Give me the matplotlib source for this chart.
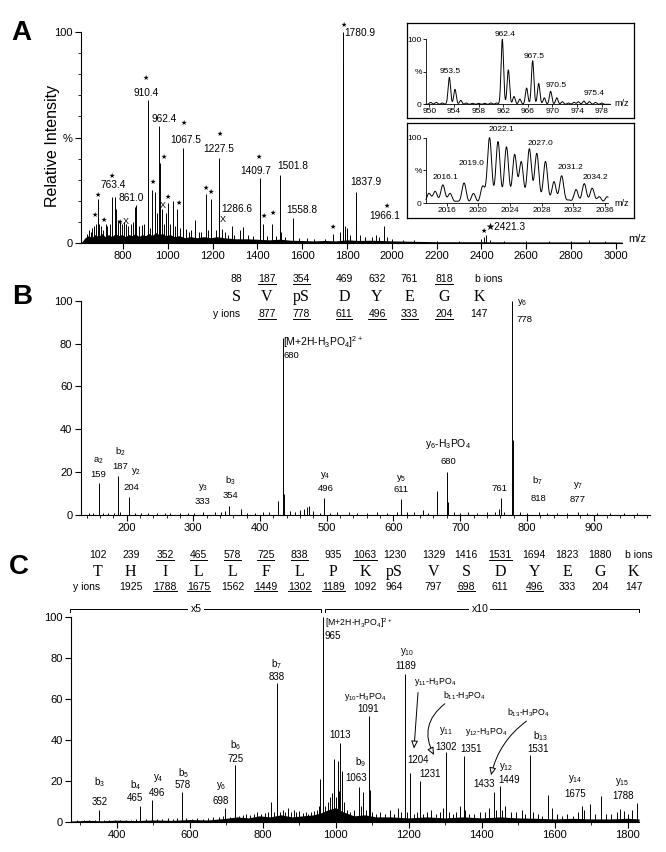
import numpy as np
import matplotlib
matplotlib.use("Agg")
import matplotlib.pyplot as plt
from matplotlib.lines import Line2D
from matplotlib import font_manager

names = {f.name for f in font_manager.fontManager.ttflist}
SANS = 'Liberation Sans Narrow' if 'Liberation Sans Narrow' in names else 'Liberation Sans'
plt.rcParams['font.family'] = [SANS, 'Liberation Sans', 'DejaVu Sans']
plt.rcParams['mathtext.fontset'] = 'custom'
plt.rcParams['mathtext.rm'] = SANS
plt.rcParams['mathtext.default'] = 'regular'
plt.rcParams['axes.linewidth'] = 0.8

W, H = 666, 852

# ---------------- panel A : survey spectrum ----------------
a_mz = [640, 648, 655, 662, 671, 681, 686, 694, 702, 711, 722, 730, 740, 751, 763, 768,
        777, 785, 795, 802, 812, 824, 835, 842, 851, 857, 869, 883, 895, 910.4, 919, 931,
        942, 953, 962.4, 965, 972, 981, 990, 1001, 1010, 1021, 1030, 1040, 1053, 1067.5,
        1083, 1095, 1105, 1119, 1140, 1149, 1168, 1180, 1193, 1216, 1227.5, 1230, 1242,
        1255, 1270, 1286.6, 1297, 1320, 1334, 1356, 1378, 1409.7, 1412, 1424, 1444, 1466,
        1481, 1501.8, 1506, 1525, 1558.8, 1584, 1621, 1651, 1700, 1736, 1770, 1780.9,
        1781.9, 1782.9, 1790, 1802, 1815, 1837.9, 1840, 1860, 1880, 1910, 1930, 1945,
        1966.1, 1980, 2000, 2050, 2100, 2200, 2300, 2400, 2410, 2421.3, 2440, 2500,
        2600, 2700, 2800, 2880, 2950]
a_int = [4.5, 6, 5, 7, 8, 9, 21, 9, 8, 6, 9, 8, 9, 22, 22, 16,
         11, 10, 9, 10, 9, 8, 9, 10, 17, 18, 8, 8.5, 9, 68, 7, 25,
         24, 14, 55.6, 38, 16, 9, 14, 19, 9, 20, 8, 16, 7, 45,
         6.5, 5, 6, 11, 5, 5, 23, 6, 21, 6, 40.5, 26.5, 6.5,
         5, 4, 8, 4, 6, 7.5, 4, 3.5, 30.6, 22.9, 8.9, 3.5, 9,
         3.5, 32, 5, 3, 12, 2.5, 2.5, 2, 2, 4.5, 5, 100,
         85, 70, 8, 7, 4, 24, 8, 4, 3, 3, 4, 3,
         8, 3, 2, 1.5, 1.2, 1, 1, 2, 3, 4, 1.5, 1,
         0.8, 0.8, 1, 1.5, 1]
# baseline "grass" envelope
a_band_mz = [612, 630, 645, 660, 675, 690, 705, 720, 735, 750, 765, 780, 795, 810, 825,
             840, 855, 870, 885, 900, 915, 930, 945, 960, 975, 990, 1010, 1030, 1050,
             1075, 1100, 1130, 1160, 1190, 1220, 1250, 1300, 1350, 1400, 1450, 1500,
             1550, 1600, 1650, 1700, 1750, 1800, 1850, 1900, 1950, 2000, 2100, 2200,
             2400, 2600, 2800, 3000, 3028]
a_band_int = [0, 2.5, 3.5, 2.5, 4, 3, 4.5, 3, 4, 3, 4.5, 3.5, 4, 3, 4,
              3.5, 4.5, 3, 4, 3.5, 4.5, 3.5, 5, 4, 4.5, 3.5, 4, 3, 3.5,
              2.5, 3, 2.5, 3, 2.5, 3, 2.5, 2, 2, 1.8, 1.5, 1.8,
              1.3, 1.2, 1, 1.2, 1, 1.5, 1.2, 1.3, 1.2, 1, 0.8, 0.6,
              0.6, 0.5, 0.5, 0.5, 0.4]
a_star_mz = [671, 686, 711, 751, 786, 901, 933, 980, 999, 1047, 1071, 1168, 1193, 1233,
             1405, 1426, 1468, 1736, 1787, 1977, 2410]
a_star_int = [13.5, 23, 11, 32, 10, 78, 29, 41, 22, 19, 57, 26, 24, 51.5,
              41, 13, 14, 7.6, 103.5, 17.6, 5.5]
a_cross_mz = [813, 977, 1246]
a_cross_int = [10, 18, 11]
a_labels = ['1780.9', '910.4', '962.4', '1067.5', '1227.5', '1409.7', '1501.8', '1558.8',
            '1286.6', '1837.9', '1966.1', '763.4', '861.0', '\u26052421.3']
a_label_pos = [(1786, 99.5, 'left'), (904, 71, 'center'), (984, 59, 'center'),
               (1080, 49, 'center'), (1229, 44.5, 'center'), (1390, 34, 'center'),
               (1559, 36.6, 'center'), (1600, 15.5, 'center'), (1308, 16, 'center'),
               (1885, 28.7, 'center'), (1967, 12.7, 'center'), (756, 27.4, 'center'),
               (834, 21.5, 'center'), (2416, 7.6, 'left')]

# insets (isotope clusters)
in1_mz = [950.2, 951.1, 952.1, 953.24, 954.16, 955.1, 956.0, 957.0, 958.0, 959.0, 960.0,
          960.9, 961.85, 962.83, 963.75, 964.7, 965.8, 966.78, 967.76, 968.67, 969.7,
          970.7, 971.6, 972.6, 973.5, 974.2, 975.1, 976.0, 977.0, 978.0]
in1_int = [3, 3, 2, 41.5, 23, 6, 2, 1.5, 1.5, 1.5, 2,
           2, 100, 53, 12, 8, 25, 67, 32, 10, 20,
           10, 4, 2, 3, 4, 5, 4, 3, 2]
in1_labels = ['953.5', '962.4', '967.5', '970.5', '975.4']
in1_label_pos = [(953.4, 51), (962.3, 108), (967.0, 73), (970.6, 29), (976.8, 17)]
in2_mz = [2013.76, 2014.56, 2015.53, 2016.44, 2017.3, 2018.21, 2019.4, 2020.57, 2021.43,
          2022.5, 2023.57, 2024.6, 2025.44, 2026.46, 2027.4, 2028.5, 2029.57, 2030.54,
          2031.45, 2032.36, 2033.4, 2034.4, 2035.3, 2036.3]
in2_int = [15, 18, 28, 15, 3, 31, 15, 26, 100,
           94, 86, 74, 63, 83, 76, 64, 33, 42,
           5, 21, 30, 23, 10, 10]
in2_labels = ['2022.1', '2027.0', '2019.0', '2016.1', '2031.2', '2034.2']
in2_label_pos = [(2023.0, 112), (2027.9, 91), (2019.2, 61), (2015.9, 40), (2031.6, 54), (2034.8, 39)]

# ---------------- panel B : MS/MS of SVpSDYEGK ----------------
b_mz = [143, 150, 159, 165, 172, 181, 187, 190, 204, 213, 222, 232, 245, 258, 265, 280,
        292, 301, 315, 333, 341, 348, 354, 372, 380, 392, 405, 413, 427, 435, 436, 445,
        452, 460, 466, 470, 474, 480, 490, 496, 505, 515, 533, 545, 560, 575, 590, 606,
        611, 620, 631, 645, 652, 665, 680, 682, 690, 700, 712, 725, 740, 752, 758, 761,
        765, 778, 779, 790, 800, 818, 830, 845, 860, 877, 890, 905, 925, 945, 965]
b_int = [0.8, 1, 14.8, 0.8, 1, 1, 18.2, 1.5, 8.2, 1, 0.8, 0.7, 1, 0.8, 1, 0.8,
         1, 0.7, 1.2, 1.5, 1.5, 1.8, 4.2, 3, 1, 1, 1.5, 1.2, 6.7, 82.4, 10, 2,
         1.5, 2.5, 3, 3.5, 4, 2, 1, 7.8, 1, 1.2, 1.5, 0.8, 1, 1.2, 1, 1.5,
         7.5, 1.5, 1.2, 2.5, 1, 11.4, 20.2, 6, 1.5, 1, 1.2, 1, 1.2, 1.5, 3, 7.8,
         1.5, 100, 35, 1.5, 1, 1.2, 1, 0.8, 0.8, 1.2, 1, 0.8, 0.8, 1, 0.8]
b_labels = ['a$_2$', '159', 'b$_2$', '187', 'y$_2$', '204', 'y$_3$', '333', 'b$_3$', '354',
            '[M+2H-H$_3$PO$_4$]$^{2+}$', '680', 'y$_4$', '496', 'y$_5$', '611',
            'y$_6$-H$_3$PO$_4$', '680', '761', 'y$_6$', '778', 'b$_7$', '818', 'y$_7$', '877']
b_label_pos = [(158, 25.5, 'center'), (158, 18.7, 'center'), (190, 29.5, 'center'),
               (190, 22.5, 'center'), (214, 20.5, 'center'), (208, 12.9, 'center'),
               (314.5, 13, 'center'), (314.5, 6.2, 'center'), (355, 16, 'center'),
               (355, 8.9, 'center'), (435, 80.5, 'left'), (435, 74.6, 'left'),
               (498, 18.4, 'center'), (498, 12.4, 'center'), (612, 17, 'center'),
               (612, 11.7, 'center'), (681.7, 33, 'center'), (681.7, 24.9, 'center'),
               (758, 12.4, 'center'), (785, 99, 'left'), (785, 91.3, 'left'),
               (815, 16, 'center'), (818, 7.8, 'center'), (876, 13.6, 'center'),
               (876, 7, 'center')]
b_residues = ['S', 'V', 'pS', 'D', 'Y', 'E', 'G', 'K']
b_bions = ['88', '187', '354', '469', '632', '761', '818']
b_bions_ul = [False, True, True, False, False, False, True]
b_yions = ['877', '778', '611', '496', '333', '204', '147']
b_yions_ul = [True, True, True, True, True, True, False]

# ---------------- panel C : MS/MS of THILLFLPKpSVSDYEGK ----------------
c_mz = [290, 310, 325, 340, 352, 365, 380, 395, 410, 425, 440, 452, 465, 480, 496, 510,
        525, 540, 555, 565, 578, 580, 590, 605, 620, 635, 650, 665, 680, 690, 698, 710,
        725, 735, 745, 755, 765, 775, 785, 795, 805, 815, 822, 830, 838, 840, 848, 855,
        862, 869, 878, 885, 892, 900, 910, 918, 925, 932, 940, 948, 955, 958, 965, 972,
        980, 985, 990, 996, 1000, 1005, 1008, 1013, 1017, 1022, 1030, 1040, 1050, 1063,
        1070, 1075, 1082, 1091, 1094, 1100, 1110, 1120, 1135, 1150, 1160, 1170, 1180,
        1189, 1195, 1204, 1215, 1222, 1231, 1240, 1250, 1262, 1275, 1285, 1295, 1302,
        1310, 1320, 1330, 1340, 1351, 1355, 1365, 1380, 1395, 1410, 1420, 1433, 1440,
        1449, 1455, 1465, 1480, 1495, 1510, 1520, 1531, 1540, 1555, 1565, 1581, 1593,
        1605, 1620, 1635, 1650, 1665, 1675, 1680, 1698, 1710, 1727, 1740, 1755, 1770,
        1779, 1790, 1800, 1812, 1826]
c_int = [0.8, 1, 0.8, 1, 6, 1, 1, 1.2, 1, 1.2, 1, 1.5, 7.7, 1.5, 10.6, 1.5,
         1.5, 2, 1.5, 2, 14.7, 4, 2, 1.5, 2, 1.5, 2, 2.5, 2.5, 3, 7, 2.5,
         27.7, 3, 3.5, 4, 3.5, 4, 5, 4, 4.5, 5, 9.8, 5, 68, 12.7, 5, 6,
         5, 7, 5, 6, 5, 5.5, 4.5, 5, 4, 5, 5.5, 6, 8, 21, 100, 8,
         10, 12, 14, 30.5, 12, 30, 15, 38.7, 25, 10, 6, 5, 6, 17,
         8, 14.7, 6, 51.7, 15.8, 5, 4, 5, 4, 6, 4, 7, 5,
         72.3, 5, 24, 4, 5, 20, 4, 5, 6, 4, 5, 7, 34,
         5, 4, 5, 8, 32.3, 6, 4, 4, 5, 5, 7, 14.4, 6,
         17.5, 6, 8, 5, 5, 6, 4, 32.6, 5, 4, 3, 13, 7,
         4, 3, 4, 3, 5, 7.7, 6, 9, 4, 12.6, 4, 4, 5,
         6.5, 5.5, 4, 6, 9.3]
c_band_mz = [276, 320, 360, 400, 450, 500, 550, 600, 650, 700, 730, 760, 790, 820, 850,
             880, 910, 940, 960, 980, 1000, 1020, 1050, 1080, 1110, 1150, 1200, 1250,
             1300, 1350, 1400, 1450, 1500, 1550, 1600, 1650, 1700, 1750, 1800, 1831]
c_band_int = [0.5, 0.8, 0.6, 0.9, 0.7, 1, 0.8, 1.2, 1, 1.8, 2.5, 2, 3, 2.5, 3.5,
              2.5, 3, 3.5, 4.5, 6, 7, 5, 3, 3.5, 2.5, 2.5, 2, 2.5,
              2, 2.5, 2, 2.5, 2, 1.8, 1.5, 1.8, 1.5, 1.5, 1.8, 1.5]
c_labels = ['b$_3$', '352', 'b$_4$', '465', 'y$_4$', '496', 'b$_5$', '578', 'y$_6$', '698',
            'b$_6$', '725', 'b$_7$', '838', '[M+2H-H$_3$PO$_4$]$^{2+}$', '965', '1013',
            'b$_9$', '1063', 'y$_{10}$-H$_3$PO$_4$', '1091', 'y$_{10}$', '1189',
            'y$_{11}$-H$_3$PO$_4$', 'b$_{11}$-H$_3$PO$_4$', 'b$_{13}$-H$_3$PO$_4$',
            '1204', '1231', 'y$_{11}$', '1302', 'y$_{12}$-H$_3$PO$_4$', '1351', '1433',
            'y$_{12}$', '1449', 'b$_{13}$', '1531', 'y$_{14}$', '1675', 'y$_{15}$', '1788']
c_label_pos = [(353.5, 19.5, 'center'), (353.5, 9.8, 'center'), (452, 18, 'center'),
               (450, 11.7, 'center'), (513, 21.7, 'center'), (510, 14.2, 'center'),
               (583, 23.8, 'center'), (580, 18, 'center'), (685, 17.5, 'center'),
               (685, 10, 'center'), (726, 37.5, 'center'), (726, 30.5, 'center'),
               (839, 77.2, 'center'), (839, 70.6, 'center'), (970, 97, 'left'),
               (970, 90.5, 'left'), (1011, 42.4, 'center'), (1067, 29, 'center'),
               (1055, 21.7, 'center'), (1081, 60.9, 'center'), (1090, 55, 'center'),
               (1195, 82.9, 'center'), (1191, 75.9, 'center'), (1273, 68.2, 'center'),
               (1354, 61.5, 'center'), (1529, 53.5, 'center'), (1226, 30.2, 'center'),
               (1258, 23.3, 'center'), (1302, 44.5, 'center'), (1302, 36.7, 'center'),
               (1412, 43.7, 'center'), (1372, 35.4, 'center'), (1407, 18.4, 'center'),
               (1467, 26.9, 'center'), (1476, 20.4, 'center'), (1560, 42.1, 'center'),
               (1555, 35.4, 'center'), (1657, 21.2, 'center'), (1657, 13.9, 'center'),
               (1785, 19.3, 'center'), (1788, 12.6, 'center')]
c_residues = ['T', 'H', 'I', 'L', 'L', 'F', 'L', 'P', 'K', 'pS', 'V', 'S', 'D', 'Y', 'E', 'G', 'K']
c_bions = ['102', '239', '352', '465', '578', '725', '838', '935', '1063', '1230', '1329',
           '1416', '1531', '1694', '1823', '1880']
c_bions_ul = [False, False, True, True, True, True, True, False, True, False, False,
              False, True, False, False, False]
c_yions = ['1925', '1788', '1675', '1562', '1449', '1302', '1189', '1092', '964', '797',
           '698', '611', '496', '333', '204', '147']
c_yions_ul = [False, True, True, False, True, True, True, False, False, False,
              True, False, True, False, False, False]
# arrows: (start m/z, start %, end m/z, end %, curvature)
c_arrows = [(1226, 64.5, 1214, 34.5, 0.0), (1305, 58.5, 1273, 31.5, 0.45),
            (1529, 50, 1424, 21.5, 0.2)]


def fx(x):
    return x / W


def fy(y):
    return 1 - y / H


fig = plt.figure(figsize=(W / 100, H / 100), dpi=100)
fig.patch.set_facecolor('white')


def style_axes(ax):
    ax.spines['top'].set_visible(False)
    ax.spines['right'].set_visible(False)
    ax.set_facecolor('none')
    ax.tick_params(direction='out', length=4, width=0.8, labelsize=8, pad=2)
    ax.tick_params(which='minor', length=2, width=0.6)


# ---- A ----
axA = fig.add_axes([fx(80.7), fy(243), fx(622 - 80.7), (243 - 32) / H])
style_axes(axA)
axA.set_xlim(610.6, 3028)
axA.set_ylim(0, 100)
axA.fill_between(a_band_mz, 0, a_band_int, color='black', lw=0)
axA.vlines(a_mz, 0, a_int, color='black', lw=0.7)
axA.set_xticks(range(800, 3001, 200))
axA.set_yticks([0, 50, 100])
axA.set_yticklabels(['0', '%', '100'])
axA.set_yticks(range(10, 100, 10), minor=True)
for m, h in zip(a_star_mz, a_star_int):
    axA.text(m, h, '\u2605', fontsize=5, family='DejaVu Sans', ha='center', va='center', clip_on=False)
for m, h in zip(a_cross_mz, a_cross_int):
    axA.text(m, h, 'X', fontsize=6.5, ha='center', va='center')
for t, (m, h, ha) in zip(a_labels, a_label_pos):
    axA.text(m, h, t, fontsize=7.3, ha=ha, va='center', clip_on=False,
             family=[SANS, 'DejaVu Sans'])
fig.text(fx(637), fy(239), 'm/z', fontsize=8, ha='center', va='center')
fig.text(fx(53), fy(146), 'Relative Intensity', rotation=90, fontsize=11.5,
         ha='center', va='center')
fig.text(fx(21), fy(33), 'A', fontsize=20, weight='bold', family='Liberation Sans',
         ha='center', va='center')

# insets
for top in (22.7, 122.7):
    box = fig.add_axes([fx(406.8), fy(top + 95.6), fx(227.2), 95.6 / H])
    box.set_xticks([])
    box.set_yticks([])
    box.set_facecolor('white')
    box.set_zorder(3)
    for s in box.spines.values():
        s.set_linewidth(0.9)


def draw_inset(rect, mz, inten, xlim, ticks, sigma, labels, label_pos, mz_y):
    ax = fig.add_axes(rect)
    ax.set_zorder(4)
    style_axes(ax)
    ax.tick_params(length=2, labelsize=6, pad=1, width=0.6)
    ax.spines['left'].set_linewidth(0.6)
    ax.spines['bottom'].set_linewidth(0.6)
    ax.set_xlim(*xlim)
    ax.set_ylim(0, 100)
    grid = np.linspace(xlim[0], xlim[1], 1500)
    prof = np.zeros_like(grid)
    for c, h in zip(mz, inten):
        prof += h * np.exp(-0.5 * ((grid - c) / sigma) ** 2)
    ax.plot(grid, prof, color='black', lw=0.7, clip_on=False)
    ax.set_xticks(ticks)
    ax.set_yticks([0, 50, 100])
    ax.set_yticklabels(['0', '%', '100'])
    for t, (m, h) in zip(labels, label_pos):
        ax.text(m, h, t, fontsize=6, ha='center', va='center', clip_on=False)
    fig.text(fx(622), fy(mz_y), 'm/z', fontsize=6.5, ha='center', va='center', zorder=5)
    return ax


draw_inset([fx(426), fy(104.3), fx(610 - 426), 65 / H], in1_mz, in1_int,
           (949.45, 979.35), range(950, 979, 4), 0.2, in1_labels, in1_label_pos, 104)
draw_inset([fx(426), fy(203.3), fx(608 - 426), 65.6 / H], in2_mz, in2_int,
           (2013.4, 2036.4), range(2016, 2037, 4), 0.27, in2_labels, in2_label_pos, 203)

# ---- B ----
axB = fig.add_axes([fx(80.7), fy(515), fx(649.7 - 80.7), (515 - 300.7) / H])
style_axes(axB)
axB.set_xlim(131.3, 984)
axB.set_ylim(0, 100)
axB.vlines(b_mz, 0, b_int, color='black', lw=0.7)
axB.set_xticks(range(200, 901, 100))
axB.set_xticks(range(140, 981, 20), minor=True)
axB.set_yticks(range(0, 101, 20))
for t, (m, h, ha) in zip(b_labels, b_label_pos):
    fs = 7.5 if t.startswith('[') or '-' in t else 6.8
    axB.text(m, h, t, fontsize=fs, ha=ha, va='center', clip_on=False)
fig.text(fx(22), fy(297), 'B', fontsize=20, weight='bold', family='Liberation Sans',
         ha='center', va='center')

# ---- C ----
axC = fig.add_axes([fx(71.3), fy(822), fx(639 - 71.3), (822 - 617) / H])
style_axes(axC)
axC.set_xlim(275.5, 1831)
axC.set_ylim(0, 100)
axC.fill_between(c_band_mz, 0, c_band_int, color='black', lw=0)
axC.vlines(c_mz, 0, c_int, color='black', lw=0.7)
axC.set_xticks(range(400, 1801, 200))
axC.set_xticks(range(300, 1801, 100), minor=True)
axC.set_yticks(range(0, 101, 20))
for t, (m, h, ha) in zip(c_labels, c_label_pos):
    fs = 6.3 if '-' in t else 7
    axC.text(m, h, t, fontsize=fs, ha=ha, va='center', clip_on=False)
for (m0, h0, m1, h1, rad) in c_arrows:
    axC.annotate('', xy=(m1, h1), xytext=(m0, h0),
                 arrowprops=dict(arrowstyle='-|>,head_length=0.45,head_width=0.2',
                                 fc='white', ec='black', lw=0.7,
                                 connectionstyle='arc3,rad=%s' % rad))
# magnification brackets
for (m0, m1, lab, mc) in [(272, 958.6, 'x5', 617), (970, 1831, 'x10', 1395)]:
    axC.plot([m0, m0, m1, m1], [102.5, 104, 104, 102.5], color='black', lw=0.7, clip_on=False)
    axC.text(mc, 104, lab, fontsize=7.5, ha='center', va='center', clip_on=False,
             bbox=dict(facecolor='white', edgecolor='none', pad=1.5))
fig.text(fx(19), fy(567), 'C', fontsize=20, weight='bold', family='Liberation Sans',
         ha='center', va='center')

# ---- sequence headers ----
b_cols = [236, 267, 301.5, 344, 377, 409.5, 444, 479]
c_cols = [97.7, 130.8, 165, 198.7, 232.7, 265.7, 299.4, 333.3, 365, 394.5, 433.5,
          466.2, 500.2, 534.2, 567, 600, 633.5]
under = []


def header(cols, residues, bions, bul, yions, yul, yb, yr, yy, blab_x, ylab_x):
    for x, r in zip(cols, residues):
        fig.text(fx(x), fy(yr), r, fontsize=11.5, family='Liberation Serif',
                 ha='center', va='center')
    for x, t, u in zip(cols[:len(bions)], bions, bul):
        tt = fig.text(fx(x), fy(yb), t, fontsize=7.5, ha='center', va='center')
        if u:
            under.append(tt)
    for x, t, u in zip(cols[1:], yions, yul):
        tt = fig.text(fx(x), fy(yy), t, fontsize=7.5, ha='center', va='center')
        if u:
            under.append(tt)
    fig.text(fx(blab_x), fy(yb), 'b ions', fontsize=7.5, ha='center', va='center')
    fig.text(fx(ylab_x), fy(yy), 'y ions', fontsize=7.5, ha='center', va='center')


header(b_cols, b_residues, b_bions, b_bions_ul, b_yions, b_yions_ul,
       279.3, 296.7, 314, 489, 227)
header(c_cols, c_residues, c_bions, c_bions_ul, c_yions, c_yions_ul,
       555, 571.7, 586.7, 639, 87)

fig.canvas.draw()
renderer = fig.canvas.get_renderer()
inv = fig.transFigure.inverted()
for tt in under:
    bb = tt.get_window_extent(renderer)
    (x0, y0), (x1, _) = inv.transform([(bb.x0, bb.y0 + 0.5), (bb.x1, bb.y0 + 0.5)])
    fig.add_artist(Line2D([x0, x1], [y0, y0], color='black', lw=0.7))

fig.savefig('out.png', dpi=100)
